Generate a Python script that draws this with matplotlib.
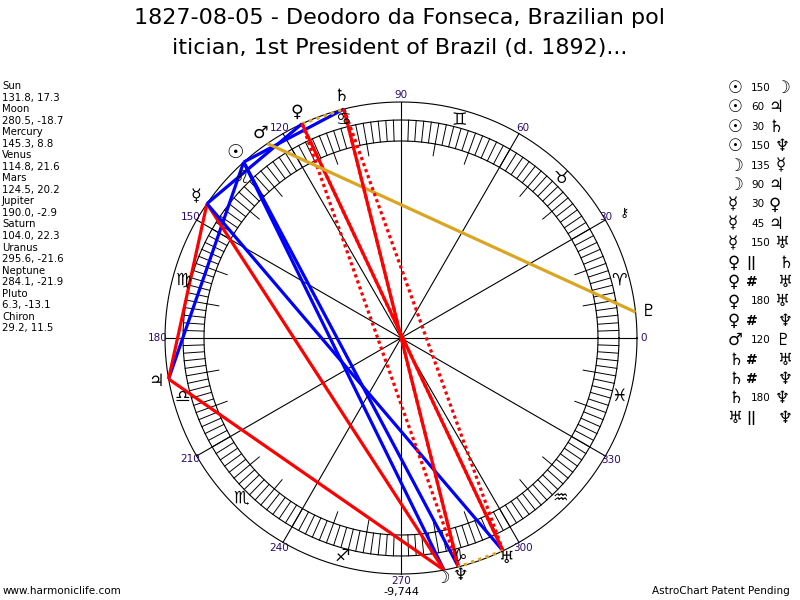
import numpy as np
import matplotlib
matplotlib.use("Agg")
import matplotlib.pyplot as plt

# ---------------- data ----------------
title_lines = ["1827-08-05 - Deodoro da Fonseca, Brazilian pol",
               "itician, 1st President of Brazil (d. 1892)..."]

planet_names = ["Sun", "Moon", "Mercury", "Venus", "Mars", "Jupiter",
                "Saturn", "Uranus", "Neptune", "Pluto", "Chiron"]
longitudes = [131.8, 280.5, 145.3, 114.8, 124.5, 190.0, 104.0, 295.6, 284.1, 6.3, 29.2]
declinations = [17.3, -18.7, 8.8, 21.6, 20.2, -2.9, 22.3, -21.6, -21.9, -13.1, 11.5]
planet_glyphs = ["☉", "☽", "☿", "♀", "♂", "♃", "♄", "♅", "♆", "♇", "⚷"]

sign_glyphs = ["♈", "♉", "♊", "♋", "♌", "♍", "♎", "♏", "♐", "♑", "♒", "♓"]
degree_labels = [0, 30, 60, 90, 120, 150, 180, 210, 240, 270, 300, 330]

aspect_p1 = ["Sun", "Sun", "Sun", "Sun", "Moon", "Moon", "Mercury", "Mercury", "Mercury",
             "Venus", "Venus", "Venus", "Venus", "Mars", "Saturn", "Saturn", "Saturn", "Uranus"]
aspect_kind = ["150", "60", "30", "150", "135", "90", "30", "45", "150",
               "||", "#", "180", "#", "120", "#", "#", "180", "||"]
aspect_p2 = ["Moon", "Jupiter", "Saturn", "Neptune", "Mercury", "Jupiter", "Venus", "Jupiter", "Uranus",
             "Saturn", "Uranus", "Uranus", "Neptune", "Pluto", "Uranus", "Neptune", "Neptune", "Neptune"]

footer_left = "www.harmoniclife.com"
footer_right = "AstroChart Patent Pending"
bottom_value = "-9,744"

# ---------------- styles ----------------
BLUE = "#0000ff"
RED = "#ff0000"
GOLD = "#daa520"
LABEL_C = "#2a0a6a"
style = {
    "30": dict(color=BLUE, ls="-"), "60": dict(color=BLUE, ls="-"), "150": dict(color=BLUE, ls="-"),
    "45": dict(color=RED, ls="-"), "90": dict(color=RED, ls="-"), "135": dict(color=RED, ls="-"),
    "180": dict(color=RED, ls="-"), "120": dict(color=GOLD, ls="-"),
    "||": dict(color=GOLD, ls=(0, (1.0, 1.4))), "#": dict(color=RED, ls=(0, (1.0, 1.0))),
}

CX, CY = 401, 338
R_OUT, R_RING_O, R_RING_I, R_TICK10 = 236, 218, 197, 185
R_GLYPH, R_SIGN, R_LABEL = 249, 226, 243

fig = plt.figure(figsize=(8, 6), dpi=100)
ax = fig.add_axes([0, 0, 1, 1])
ax.set_xlim(0, 800)
ax.set_ylim(600, 0)
ax.axis("off")


def pt(lon, r):
    a = np.deg2rad(lon)
    return CX + r * np.cos(a), CY - r * np.sin(a)


# circles
th = np.linspace(0, 360, 721)
for r in (R_OUT, R_RING_O, R_RING_I):
    x, y = pt(th, r)
    ax.plot(x, y, color="black", lw=0.8, zorder=2)

# ring ticks every 2 degrees
for d in np.arange(0, 360, 2):
    x0, y0 = pt(d, R_RING_I)
    x1, y1 = pt(d, R_RING_O)
    ax.plot([x0, x1], [y0, y1], color="black", lw=0.7, zorder=2)

# 10-degree ticks inside ring
for d in np.arange(0, 360, 10):
    if d % 30:
        x0, y0 = pt(d, R_TICK10)
        x1, y1 = pt(d, R_RING_I)
        ax.plot([x0, x1], [y0, y1], color="black", lw=0.7, zorder=2)

# spokes every 30 degrees
for d in degree_labels:
    x1, y1 = pt(d, R_OUT)
    ax.plot([CX, x1], [CY, y1], color="black", lw=0.8, zorder=2)
    lx, ly = pt(d, R_LABEL)
    if d == 30:
        lx -= 6
    ax.text(lx, ly, str(d), color=LABEL_C, fontsize=7.5, ha="center", va="center",
            family="DejaVu Sans", zorder=5)

# sign glyphs
for i, g in enumerate(sign_glyphs):
    sx, sy = pt(15 + 30 * i, R_SIGN)
    ax.text(sx, sy, g, fontsize=12.5, ha="center", va="center", color="black",
            family="DejaVu Sans", zorder=5)

# aspect lines
lon_of = dict(zip(planet_names, longitudes))
for p1, k, p2 in zip(aspect_p1, aspect_kind, aspect_p2):
    x0, y0 = pt(lon_of[p1], R_OUT)
    x1, y1 = pt(lon_of[p2], R_OUT)
    st = style[k]
    ax.plot([x0, x1], [y0, y1], color=st["color"], ls=st["ls"], lw=2.3,
            solid_capstyle="butt", zorder=4)

# planet glyphs
for name, lon, g in zip(planet_names, longitudes, planet_glyphs):
    r = R_GLYPH
    fs = 12.5
    if name == "Chiron":
        r, fs = 256, 9
    if name in ("Moon", "Neptune", "Uranus"):
        r = 244
    gx, gy = pt(lon, r)
    if name == "Moon":
        gx -= 3
    fw = "bold" if name == "Sun" else "normal"
    if name == "Sun":
        fs = 14
    ax.text(gx, gy, g, fontsize=fs, fontweight=fw, ha="center", va="center",
            color="black", family="DejaVu Sans", zorder=6)

ax.text(CX, 592, bottom_value, fontsize=8, ha="center", va="center", color="black")

# title
ax.text(400, 18, title_lines[0], fontsize=16, ha="center", va="center", color="black")
ax.text(400, 48, title_lines[1], fontsize=16, ha="center", va="center", color="black")

# left list
lines = []
for n, l, d in zip(planet_names, longitudes, declinations):
    lines.append(n)
    lines.append(f"{l:.1f}, {d:.1f}")
for i, s in enumerate(lines):
    ax.text(2, 86 + i * 11.54, s, fontsize=7.3, ha="left", va="center", color="black")

# right legend
glyph_of = dict(zip(planet_names, planet_glyphs))
for i, (p1, k, p2) in enumerate(zip(aspect_p1, aspect_kind, aspect_p2)):
    y = 88 + i * 19.4
    ax.text(728, y, glyph_of[p1], fontsize=12, ha="left", va="center",
            fontweight="bold" if p1 == "Sun" else "normal")
    if k in ("||", "#"):
        ax.text(746, y, k, fontsize=10, fontweight="bold", ha="left", va="center")
        x2 = 778
    else:
        ax.text(751, y, k, fontsize=7.5, ha="left", va="center")
        x2 = 751 + len(k) * 6.8 + 4
    ax.text(x2, y, glyph_of[p2], fontsize=12, ha="left", va="center")

# footers
ax.text(3, 591, footer_left, fontsize=7.5, ha="left", va="center")
ax.text(790, 591, footer_right, fontsize=7.5, ha="right", va="center")

fig.savefig("out.png", dpi=100, facecolor="white")
